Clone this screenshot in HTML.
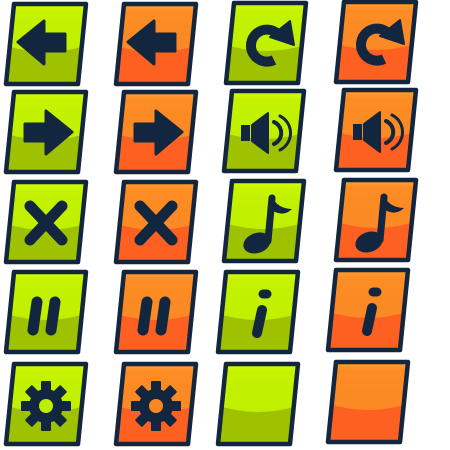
<!DOCTYPE html>
<html><head><meta charset="utf-8"><style>
html,body{margin:0;padding:0;background:#fff;width:450px;height:450px;overflow:hidden}
svg{display:block}
</style></head><body>
<svg id="s" width="450" height="450" viewBox="0 0 450 450">
<defs>
<linearGradient id="gt" x1="0" y1="0" x2="0" y2="1"><stop offset="0" stop-color="#d8ff00"/><stop offset="0.1" stop-color="#c4f200"/><stop offset="1" stop-color="#bdef00"/></linearGradient>
<linearGradient id="ot" x1="0" y1="0" x2="0" y2="1"><stop offset="0" stop-color="#ffa030"/><stop offset="0.1" stop-color="#fd8c25"/><stop offset="1" stop-color="#fb8722"/></linearGradient>
</defs>
</svg>
<script>
const NS='http://www.w3.org/2000/svg';
const s=document.getElementById('s');
const D='#13263f';
const icons={
 left:`<polygon points="10,38 36,17 36,30 57,30 57,47 36,47 36,60" fill="${D}" stroke="${D}" stroke-width="3" stroke-linejoin="round"/>`,
 right:`<polygon points="64,40 38,19 38,32 17,32 17,49 38,49 38,62" fill="${D}" stroke="${D}" stroke-width="3" stroke-linejoin="round"/>`,
 redo:`<path d="M50,31 A16,16 0 1 0 46,57" fill="none" stroke="${D}" stroke-width="10"/><polygon points="62,18 66,42 42,34" fill="${D}" stroke="${D}" stroke-width="2" stroke-linejoin="round"/>`,
 sound:`<rect x="15" y="34" width="9" height="16" fill="${D}"/><polygon points="26,34 42,22 42,62 26,50" fill="${D}" stroke="${D}" stroke-width="2" stroke-linejoin="round"/><path d="M48,31 A12,12 0 0 1 48,53" fill="none" stroke="${D}" stroke-width="4" stroke-linecap="round"/><path d="M54,25 A19,19 0 0 1 54,59" fill="none" stroke="${D}" stroke-width="3" stroke-linecap="round"/>`,
 x:`<path d="M22,24 L54,58 M54,24 L22,58" stroke="${D}" stroke-width="11" stroke-linecap="round"/>`,
 note:`<ellipse cx="31" cy="62" rx="14" ry="10" fill="${D}" transform="rotate(-20 31 62)"/><path d="M42,60 L46,17" stroke="${D}" stroke-width="7" stroke-linecap="round"/><path d="M45,15 Q52,28 66,28 Q58,36 47,30 Z" fill="${D}"/>`,
 pause:`<path d="M29,30 L25,58 M47,30 L43,58" stroke="${D}" stroke-width="11" stroke-linecap="round"/>`,
 info:`<path d="M43,22 L47,22" stroke="${D}" stroke-width="9" stroke-linecap="round"/><path d="M42,38 L37,61" stroke="${D}" stroke-width="10" stroke-linecap="round"/>`,
 gear:`<g transform="translate(38,42)"><circle r="17" fill="${D}"/>${[0,45,90,135,180,225,270,315].map(a=>`<rect x="-5" y="-25" width="10" height="12" rx="1" fill="${D}" transform="rotate(${a})"/>`).join('')}<circle r="7" fill="CENTER"/></g>`,
 blank:''
};
const rows=[
 [[14,4,'left','g'],[124,4,'left','o'],[234,3,'redo','g'],[344,2,'redo','o']],
 [[14,92,'right','g'],[124,92,'right','o'],[232,91,'sound','g'],[344,90,'sound','o']],
 [[14,182,'x','g'],[124,182,'x','o'],[232,181,'note','g'],[344,180,'note','o']],
 [[14,272,'pause','g'],[124,272,'pause','o'],[226,272,'info','g'],[336,270,'info','o']],
 [[14,364,'gear','g'],[124,364,'gear','o'],[226,364,'blank','g'],[336,362,'blank','o']]
];
rows.forEach((r,ri)=>r.forEach(([x,y,ic,c],ci)=>{
 const g=document.createElementNS(NS,'g');
 g.setAttribute('transform',`translate(${x-8},${y})`);
 
 
 const top=c==='g'?'url(#gt)':'url(#ot)';
 const bot=c==='g'?'#9ec200':'#fd6020';
 const mid=c==='g'?'#bdef00':'#fb8722';
 const shape='M8,0 L80,0 L72,80 L0,80 Z';
 g.innerHTML=`<path d="${shape}" fill="${top}"/>
 <clipPath id="c${ri}${ci}"><path d="${shape}"/></clipPath>
 <path clip-path="url(#c${ri}${ci})" d="M-5,40 Q40,56 85,40 L85,85 L-5,85 Z" fill="${bot}"/>
 <path d="${shape}" fill="none" stroke="${D}" stroke-width="4.5" stroke-linejoin="round"/>
 <g transform="translate(2,0)">${icons[ic].replace('CENTER',mid)}</g>`;
 s.appendChild(g);
}));
</script>
</body></html>
